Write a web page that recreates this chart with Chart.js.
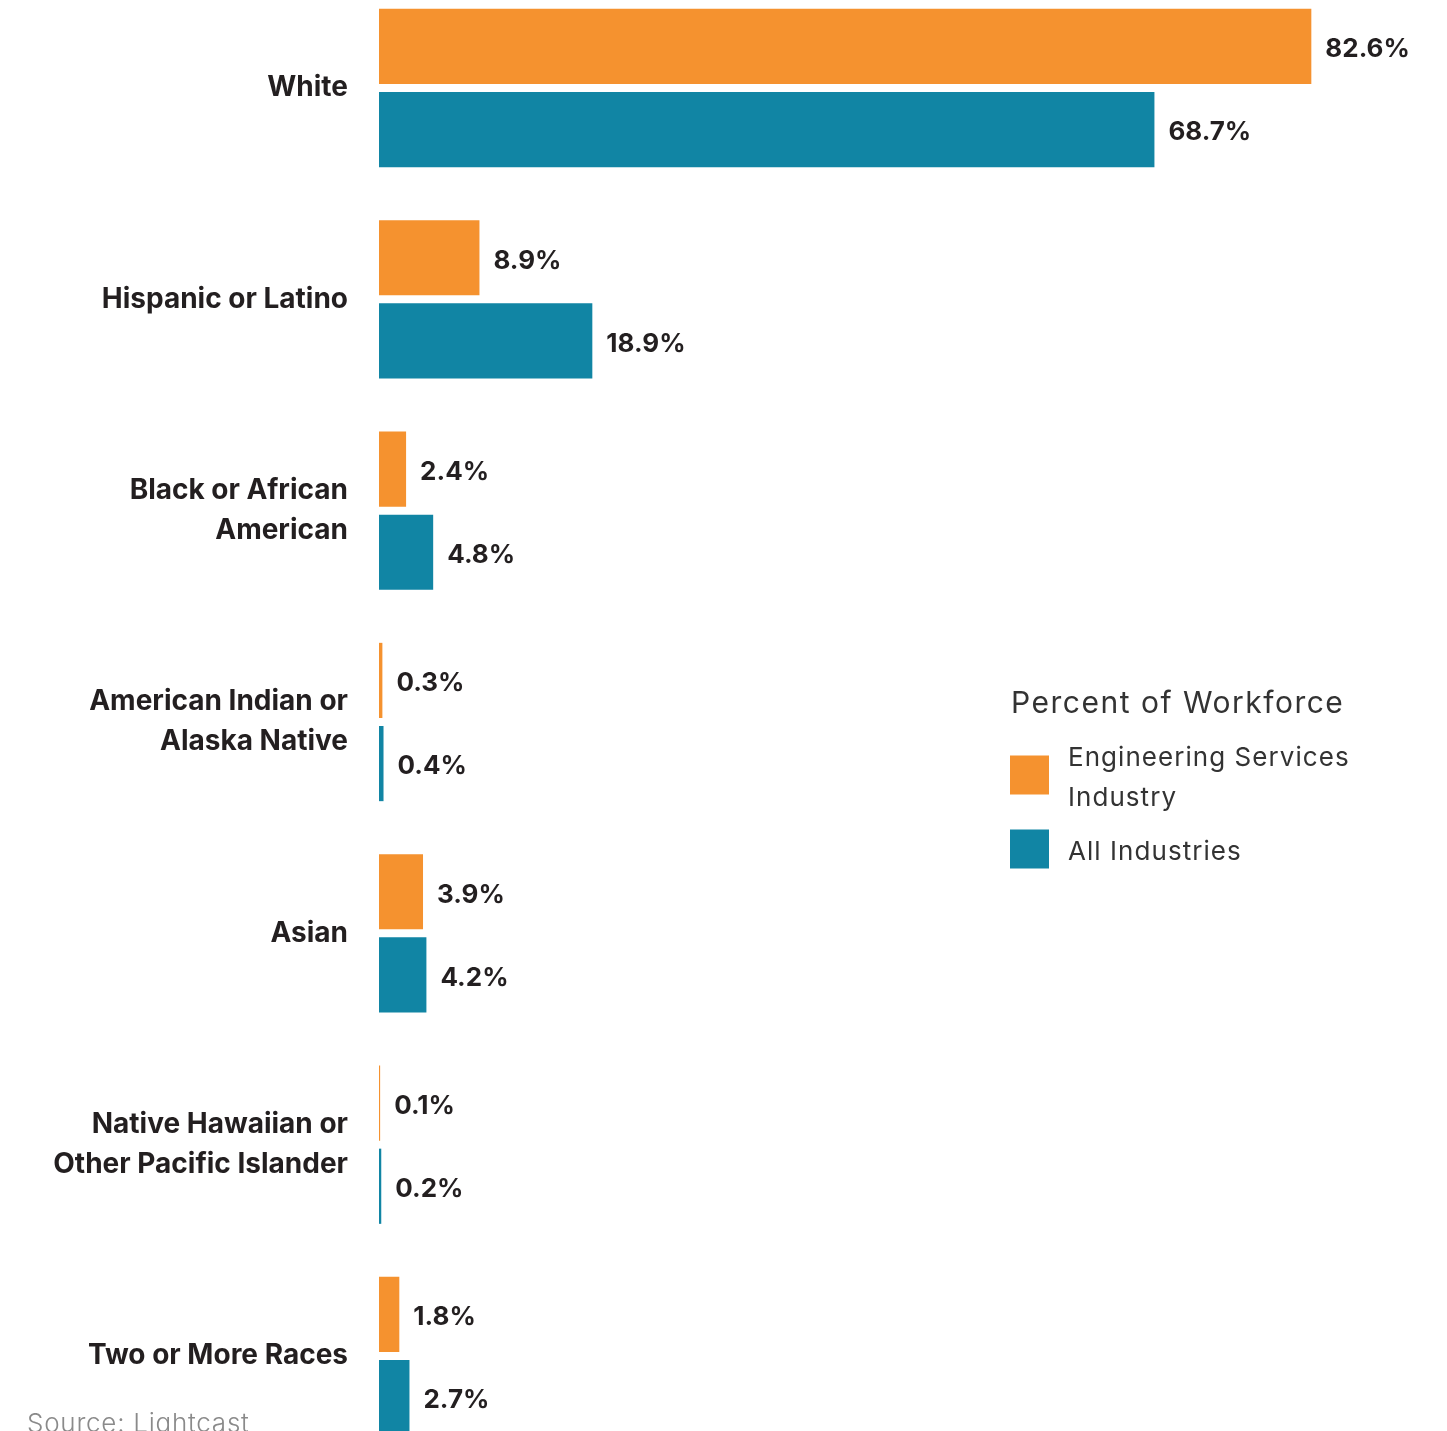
<!DOCTYPE html>
<html>
<head>
<meta charset="utf-8">
<script src="https://cdn.jsdelivr.net/npm/chart.js@4.4.1/dist/chart.umd.min.js"></script>
<style>
  body { margin: 0; background: #fff; }
  #wrap { width: 1447px; height: 1431px; position: relative; }
</style>
</head>
<body>
<div id="wrap"><canvas id="myChart"></canvas></div>
<script>
const categories = [
  "White",
  "Hispanic or Latino",
  ["Black or African", "American"],
  ["American Indian or", "Alaska Native"],
  "Asian",
  ["Native Hawaiian or", "Other Pacific Islander"],
  "Two or More Races",
];
const engineering = [82.6, 8.9, 2.4, 0.3, 3.9, 0.1, 1.8];
const allIndustries = [68.7, 18.9, 4.8, 0.4, 4.2, 0.2, 2.7];
const seriesNames = ["Engineering Services Industry", "All Industries"];
const legendTitle = "Percent of Workforce";
const sourceNote = "Source: Lightcast";

const colors = {
  orange: "#F5922F",
  teal: "#1185A4",
  ink: "#231F20",
  legendInk: "#333333",
  source: "#8a8a8a",
};
const FONT = "Inter, 'DejaVu Sans', sans-serif";

// value labels at the end of each bar
const valueLabels = {
  id: "valueLabels",
  afterDatasetsDraw(chart) {
    const ctx = chart.ctx;
    ctx.save();
    ctx.font = "bold 26px " + FONT;
    ctx.letterSpacing = "0px";
    ctx.fillStyle = colors.ink;
    ctx.textBaseline = "middle";
    ctx.textAlign = "left";
    chart.data.datasets.forEach((ds, i) => {
      chart.getDatasetMeta(i).data.forEach((bar, j) => {
        ctx.fillText(ds.data[j].toFixed(1) + "%", bar.x + 14, bar.y + 3);
      });
    });
    ctx.restore();
  },
};

// legend box on the right + source note
const sideLegend = {
  id: "sideLegend",
  afterDraw(chart) {
    const ctx = chart.ctx;
    ctx.save();
    ctx.textBaseline = "middle";
    ctx.textAlign = "left";
    ctx.fillStyle = colors.legendInk;
    ctx.font = "30px " + FONT;
    ctx.letterSpacing = "1.5px";
    ctx.fillText(legendTitle, 1011, 704);

    ctx.font = "26px " + FONT;
    ctx.letterSpacing = "1.05px";
    let y = 758;
    chart.data.datasets.forEach((ds) => {
      // wrap label
      const words = ds.label.split(" ");
      const lines = [];
      let line = "";
      words.forEach((w) => {
        const test = line ? line + " " + w : w;
        if (ctx.measureText(test).width > 300 && line) {
          lines.push(line);
          line = w;
        } else {
          line = test;
        }
      });
      lines.push(line);
      const blockMid = y + ((lines.length - 1) * 40) / 2;
      ctx.fillStyle = ds.backgroundColor;
      ctx.fillRect(1010, blockMid - 3 - 19.5, 39, 39);
      ctx.fillStyle = colors.legendInk;
      lines.forEach((l, k) => ctx.fillText(l, 1068, y + k * 40));
      y += lines.length * 40 + 14;
    });

    ctx.font = "300 26px " + FONT;
    ctx.letterSpacing = "0.75px";
    ctx.fillStyle = colors.source;
    ctx.textBaseline = "alphabetic";
    ctx.fillText(sourceNote, 27, 1432);
    ctx.restore();
  },
};

const ctx = document.getElementById("myChart").getContext("2d");
new Chart(ctx, {
  type: "bar",
  data: {
    labels: categories,
    datasets: [
      {
        label: seriesNames[0],
        data: engineering,
        backgroundColor: colors.orange,
        categoryPercentage: 0.787,
        barPercentage: 0.904,
        clip: false,
      },
      {
        label: seriesNames[1],
        data: allIndustries,
        backgroundColor: colors.teal,
        categoryPercentage: 0.787,
        barPercentage: 0.904,
        clip: false,
      },
    ],
  },
  options: {
    indexAxis: "y",
    responsive: true,
    maintainAspectRatio: false,
    animation: false,
    layout: { padding: { top: 88, bottom: 75, left: 0, right: 7 } },
    plugins: {
      legend: { display: false },
      tooltip: { enabled: false },
    },
    scales: {
      x: {
        min: 0,
        max: 94,
        display: false,
        grid: { display: false },
      },
      y: {
        offset: false,
        grid: { display: false, drawTicks: false },
        border: { display: false },
        afterFit(scale) {
          scale.width = 379;
        },
        ticks: {
          padding: 31,
          color: colors.ink,
          font: { family: FONT, size: 28, weight: "bold", lineHeight: 1.43 },
        },
      },
    },
  },
  plugins: [valueLabels, sideLegend],
});
</script>
</body>
</html>
